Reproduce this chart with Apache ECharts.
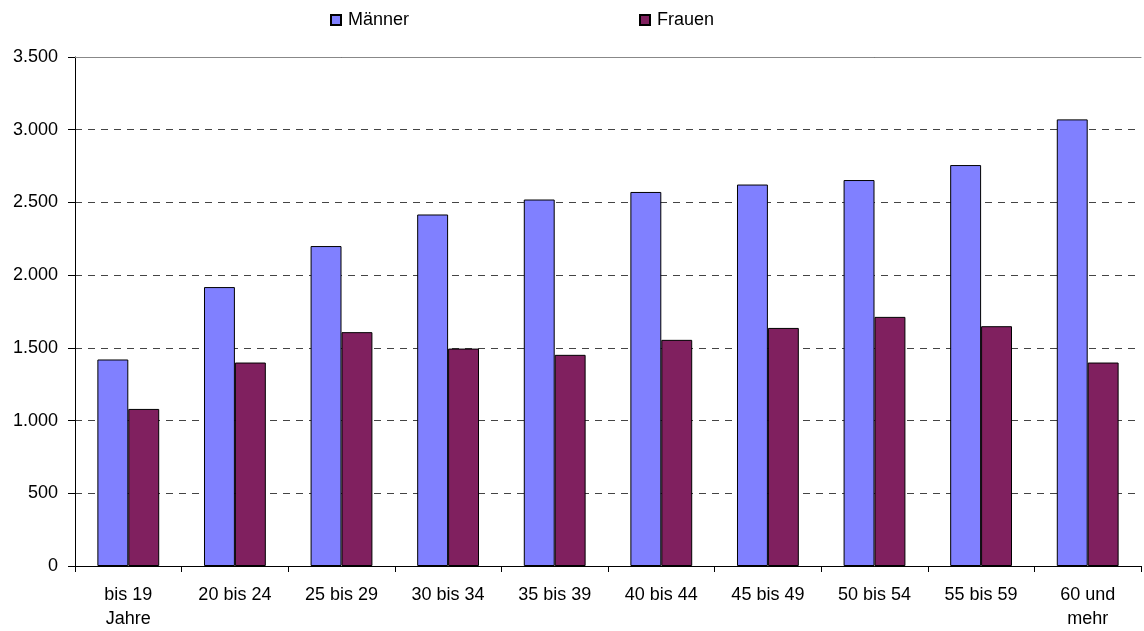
<!DOCTYPE html>
<html>
<head>
<meta charset="utf-8">
<script src="https://cdn.jsdelivr.net/npm/echarts@6/dist/echarts.min.js"></script>
<style>html,body{margin:0;padding:0;background:#fff;}#c{width:1144px;height:631px;}</style>
</head>
<body>
<div id="c"></div>
<script>
var categories = ["bis 19\nJahre", "20 bis 24", "25 bis 29", "30 bis 34", "35 bis 39", "40 bis 44", "45 bis 49", "50 bis 54", "55 bis 59", "60 und\nmehr"];
var maenner = [1420, 1918, 2200, 2417, 2520, 2572, 2623, 2654, 2757, 3071];
var frauen = [1080, 1399, 1608, 1495, 1452, 1555, 1637, 1713, 1649, 1399];
var yMin = 0, yMax = 3500, yStep = 500;

var chart = echarts.init(document.getElementById('c'));
var font = 'Liberation Sans, Arial, sans-serif';
var legendText = { fontFamily: font, fontSize: 18, color: '#000', padding: [0, 0, 0, 2] };
chart.setOption({
  animation: false,
  backgroundColor: '#fff',
  textStyle: { fontFamily: font },
  legend: [{
    left: 330, top: 11, padding: 0,
    itemWidth: 10, itemHeight: 10, icon: 'rect',
    textStyle: legendText,
    data: ['Männer']
  }, {
    left: 639, top: 11, padding: 0,
    itemWidth: 10, itemHeight: 10, icon: 'rect',
    textStyle: legendText,
    data: ['Frauen']
  }],
  grid: { left: 75, right: 3, top: 57, bottom: 64, containLabel: false },
  xAxis: [{
    type: 'category',
    data: categories,
    axisLine: { lineStyle: { color: '#000', width: 1 } },
    axisTick: { show: true, length: 6, lineStyle: { color: '#000' } },
    axisLabel: { fontFamily: font, fontSize: 18, color: '#000', lineHeight: 24, margin: 17 }
  }, {
    type: 'category',
    position: 'top',
    data: categories,
    axisLine: { show: true, lineStyle: { color: '#888', width: 1 } },
    axisTick: { show: false },
    axisLabel: { show: false }
  }],
  yAxis: {
    type: 'value',
    min: yMin, max: yMax, interval: yStep,
    axisLine: { show: true, lineStyle: { color: '#000', width: 1 } },
    axisTick: { show: true, length: 7, lineStyle: { color: '#000' } },
    axisLabel: {
      fontFamily: font, fontSize: 18, color: '#000', margin: 17,
      formatter: function (v) { return v.toString().replace(/\B(?=(\d{3})+(?!\d))/g, '.'); }
    },
    splitLine: { show: true, lineStyle: { color: '#444', type: [7, 6], width: 1 } }
  },
  series: [{
    name: 'Männer', type: 'bar', data: maenner,
    barGap: '0%', barCategoryGap: '42%',
    itemStyle: { color: '#8080ff', borderColor: '#000', borderWidth: 1 }
  }, {
    name: 'Frauen', type: 'bar', data: frauen,
    barGap: '0%', barCategoryGap: '42%',
    itemStyle: { color: '#80205f', borderColor: '#000', borderWidth: 1 }
  }]
});
</script>
</body>
</html>
